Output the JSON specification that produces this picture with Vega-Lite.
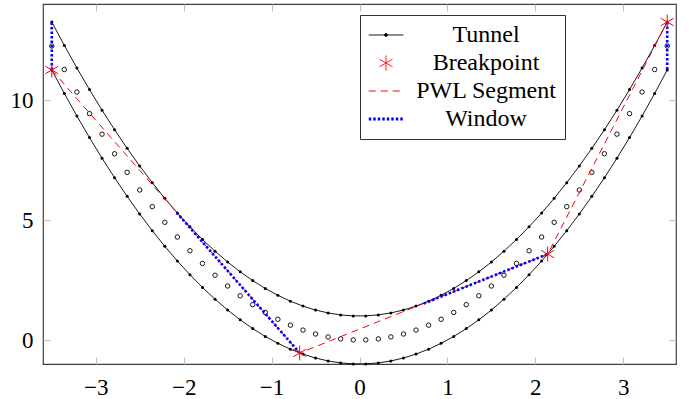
{
  "$schema": "https://vega.github.io/schema/vega-lite/v6.json",
  "width": 633,
  "height": 360,
  "autosize": "none",
  "padding": {"left": 43, "top": 4, "right": 18, "bottom": 35},
  "background": "white",
  "config": {
    "view": {"stroke": "#404040", "strokeWidth": 1.2},
    "axis": {
      "domain": false,
      "grid": false,
      "title": null,
      "labelFont": "Liberation Serif, Times New Roman, DejaVu Serif, serif",
      "labelFontSize": 23,
      "labelColor": "black",
      "tickColor": "#bdbdbd",
      "tickWidth": 1,
      "tickSize": -7
    }
  },
  "datasets": {
    "tunnel": [
      {"x": -3.5, "c": 12.25, "lo": 11.25, "hi": 13.25},
      {"x": -3.3571, "c": 11.2704, "lo": 10.2704, "hi": 12.2704},
      {"x": -3.2143, "c": 10.3316, "lo": 9.3316, "hi": 11.3316},
      {"x": -3.0714, "c": 9.4337, "lo": 8.4337, "hi": 10.4337},
      {"x": -2.9286, "c": 8.5765, "lo": 7.5765, "hi": 9.5765},
      {"x": -2.7857, "c": 7.7602, "lo": 6.7602, "hi": 8.7602},
      {"x": -2.6429, "c": 6.9847, "lo": 5.9847, "hi": 7.9847},
      {"x": -2.5, "c": 6.25, "lo": 5.25, "hi": 7.25},
      {"x": -2.3571, "c": 5.5561, "lo": 4.5561, "hi": 6.5561},
      {"x": -2.2143, "c": 4.9031, "lo": 3.9031, "hi": 5.9031},
      {"x": -2.0714, "c": 4.2908, "lo": 3.2908, "hi": 5.2908},
      {"x": -1.9286, "c": 3.7194, "lo": 2.7194, "hi": 4.7194},
      {"x": -1.7857, "c": 3.1888, "lo": 2.1888, "hi": 4.1888},
      {"x": -1.6429, "c": 2.699, "lo": 1.699, "hi": 3.699},
      {"x": -1.5, "c": 2.25, "lo": 1.25, "hi": 3.25},
      {"x": -1.3571, "c": 1.8418, "lo": 0.8418, "hi": 2.8418},
      {"x": -1.2143, "c": 1.4745, "lo": 0.4745, "hi": 2.4745},
      {"x": -1.0714, "c": 1.148, "lo": 0.148, "hi": 2.148},
      {"x": -0.9286, "c": 0.8622, "lo": -0.1378, "hi": 1.8622},
      {"x": -0.7857, "c": 0.6173, "lo": -0.3827, "hi": 1.6173},
      {"x": -0.6429, "c": 0.4133, "lo": -0.5867, "hi": 1.4133},
      {"x": -0.5, "c": 0.25, "lo": -0.75, "hi": 1.25},
      {"x": -0.3571, "c": 0.1276, "lo": -0.8724, "hi": 1.1276},
      {"x": -0.2143, "c": 0.0459, "lo": -0.9541, "hi": 1.0459},
      {"x": -0.0714, "c": 0.0051, "lo": -0.9949, "hi": 1.0051},
      {"x": 0.0714, "c": 0.0051, "lo": -0.9949, "hi": 1.0051},
      {"x": 0.2143, "c": 0.0459, "lo": -0.9541, "hi": 1.0459},
      {"x": 0.3571, "c": 0.1276, "lo": -0.8724, "hi": 1.1276},
      {"x": 0.5, "c": 0.25, "lo": -0.75, "hi": 1.25},
      {"x": 0.6429, "c": 0.4133, "lo": -0.5867, "hi": 1.4133},
      {"x": 0.7857, "c": 0.6173, "lo": -0.3827, "hi": 1.6173},
      {"x": 0.9286, "c": 0.8622, "lo": -0.1378, "hi": 1.8622},
      {"x": 1.0714, "c": 1.148, "lo": 0.148, "hi": 2.148},
      {"x": 1.2143, "c": 1.4745, "lo": 0.4745, "hi": 2.4745},
      {"x": 1.3571, "c": 1.8418, "lo": 0.8418, "hi": 2.8418},
      {"x": 1.5, "c": 2.25, "lo": 1.25, "hi": 3.25},
      {"x": 1.6429, "c": 2.699, "lo": 1.699, "hi": 3.699},
      {"x": 1.7857, "c": 3.1888, "lo": 2.1888, "hi": 4.1888},
      {"x": 1.9286, "c": 3.7194, "lo": 2.7194, "hi": 4.7194},
      {"x": 2.0714, "c": 4.2908, "lo": 3.2908, "hi": 5.2908},
      {"x": 2.2143, "c": 4.9031, "lo": 3.9031, "hi": 5.9031},
      {"x": 2.3571, "c": 5.5561, "lo": 4.5561, "hi": 6.5561},
      {"x": 2.5, "c": 6.25, "lo": 5.25, "hi": 7.25},
      {"x": 2.6429, "c": 6.9847, "lo": 5.9847, "hi": 7.9847},
      {"x": 2.7857, "c": 7.7602, "lo": 6.7602, "hi": 8.7602},
      {"x": 2.9286, "c": 8.5765, "lo": 7.5765, "hi": 9.5765},
      {"x": 3.0714, "c": 9.4337, "lo": 8.4337, "hi": 10.4337},
      {"x": 3.2143, "c": 10.3316, "lo": 9.3316, "hi": 11.3316},
      {"x": 3.3571, "c": 11.2704, "lo": 10.2704, "hi": 12.2704},
      {"x": 3.5, "c": 12.25, "lo": 11.25, "hi": 13.25}
    ],
    "breakpoints": [
      {"x": -3.5, "y": 11.25},
      {"x": -0.68, "y": -0.54},
      {"x": 2.14, "y": 3.58},
      {"x": 3.5, "y": 13.25}
    ],
    "windows": [
      {"w": 1, "x": -3.5, "y": 11.25},
      {"w": 1, "x": -3.5, "y": 13.25},
      {"w": 2, "x": -2.08, "y": 5.31},
      {"w": 2, "x": -0.68, "y": -0.54},
      {"w": 3, "x": 0.73, "y": 1.52},
      {"w": 3, "x": 2.14, "y": 3.58},
      {"w": 4, "x": 3.5, "y": 13.25},
      {"w": 4, "x": 3.5, "y": 11.25}
    ]
  },
  "layer": [
    {
      "data": {"name": "tunnel"},
      "mark": {"type": "point", "filled": false, "size": 20, "strokeWidth": 0.9, "color": "black", "opacity": 1},
      "encoding": {
        "x": {"field": "x", "type": "quantitative",
          "scale": {"domain": [-3.6, 3.6], "nice": false, "zero": false},
          "axis": {"orient": "bottom", "values": [-3, -2, -1, 0, 1, 2, 3], "format": "d", "labelPadding": 19}},
        "y": {"field": "c", "type": "quantitative",
          "scale": {"domain": [-1, 14], "nice": false, "zero": false},
          "axis": {"orient": "left", "values": [0, 5, 10], "format": "d", "labelPadding": 17}}
      }
    },
    {
      "data": {"name": "tunnel"},
      "mark": {"type": "line", "strokeWidth": 0.9, "point": {"filled": true, "size": 9}},
      "encoding": {
        "x": {"field": "x", "type": "quantitative",
          "axis": {"orient": "top", "values": [-3, -2, -1, 0, 1, 2, 3], "labels": false}},
        "y": {"field": "hi", "type": "quantitative",
          "axis": {"orient": "right", "values": [0, 5, 10], "labels": false}},
        "color": {
          "datum": "Tunnel",
          "scale": {"domain": ["Tunnel", "Breakpoint", "PWL Segment", "Window"], "range": ["black", "red", "red", "blue"]},
          "legend": {
            "orient": "none", "legendX": 317, "legendY": 11, "title": null,
            "padding": 8, "strokeColor": "#333", "fillColor": "white",
            "labelFont": "Liberation Serif, Times New Roman, DejaVu Serif, serif", "labelFontSize": 24, "labelColor": "black",
            "labelAlign": "center", "labelOffset": 88, "rowPadding": 4,
            "symbolSize": 529, "symbolStrokeWidth": 1, "symbolType": "stroke", "symbolOffset": 6,
            "encode": {
              "symbols": {
                "update": {
                  "shape": {"signal": "(datum.value === 'Tunnel' ? 'M-1.5,0H1.5M0.13,0A0.13,0.13,0,1,1,-0.13,0A0.13,0.13,0,1,1,0.13,0Z' : datum.value === 'Breakpoint' ? 'M0,-1V1M-0.866,-0.5L0.866,0.5M-0.866,0.5L0.866,-0.5' : 'M-1.5,0H1.5')"},
                  "size": {"signal": "(datum.value === 'Breakpoint' ? 225 : 529)"},
                  "fill": {"signal": "(datum.value === 'Tunnel' ? 'black' : 'transparent')"},
                  "strokeDash": {"signal": "(datum.value === 'PWL Segment' ? [7,5] : datum.value === 'Window' ? [2.5,2] : [1,0])"},
                  "strokeWidth": {"signal": "(datum.value === 'Window' ? 3 : 1)"},
                  "opacity": {"value": 1}
                }
              }
            }
          }
        }
      }
    },
    {
      "data": {"name": "tunnel"},
      "mark": {"type": "line", "strokeWidth": 0.9, "point": {"filled": true, "size": 9}},
      "encoding": {
        "x": {"field": "x", "type": "quantitative", "axis": null},
        "y": {"field": "lo", "type": "quantitative", "axis": null},
        "color": {"datum": "Tunnel"}
      }
    },
    {
      "data": {"name": "breakpoints"},
      "mark": {"type": "line", "strokeWidth": 1, "strokeDash": [7, 5]},
      "encoding": {
        "x": {"field": "x", "type": "quantitative", "axis": null},
        "y": {"field": "y", "type": "quantitative", "axis": null},
        "color": {"datum": "PWL Segment"}
      }
    },
    {
      "data": {"name": "windows"},
      "mark": {"type": "line", "strokeWidth": 2.6, "strokeDash": [2.5, 2]},
      "encoding": {
        "x": {"field": "x", "type": "quantitative", "axis": null},
        "y": {"field": "y", "type": "quantitative", "axis": null},
        "detail": {"field": "w", "type": "nominal"},
        "color": {"datum": "Window"}
      }
    },
    {
      "data": {"name": "breakpoints"},
      "mark": {"type": "point", "filled": false, "size": 225, "strokeWidth": 1, "opacity": 1,
        "shape": "M0,-1V1M-0.866,-0.5L0.866,0.5M-0.866,0.5L0.866,-0.5"},
      "encoding": {
        "x": {"field": "x", "type": "quantitative", "axis": null},
        "y": {"field": "y", "type": "quantitative", "axis": null},
        "color": {"datum": "Breakpoint"}
      }
    }
  ],
  "resolve": {"axis": {"x": "independent", "y": "independent"}}
}
